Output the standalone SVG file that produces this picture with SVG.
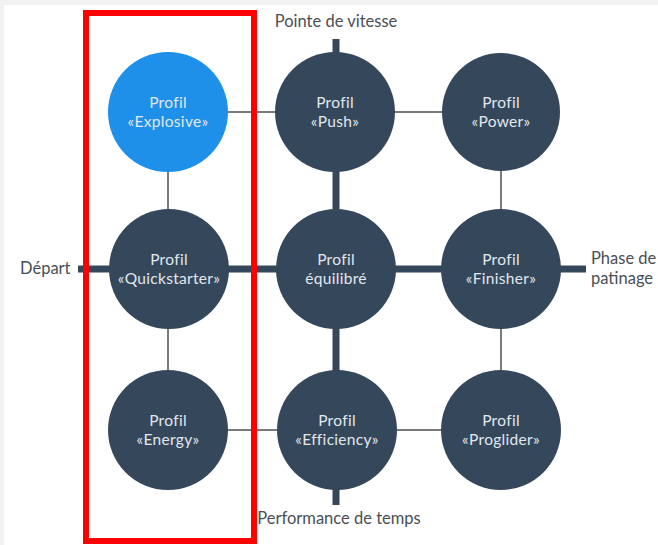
<svg xmlns="http://www.w3.org/2000/svg" width="658" height="545" viewBox="0 0 658 545">
<style>
.bg{fill:#f2f2f2}
.page{fill:#ffffff}
.thin{stroke:#7a7a7a;stroke-width:2;fill:none}
.thick{stroke:#34475b;stroke-width:7;fill:none}
.node{fill:#34475b}
.blue{fill:#1e90ea}
.nt{font-family:Lato,"Liberation Sans",sans-serif;font-size:15.5px;letter-spacing:0.3px;fill:#e3e8ee;text-anchor:middle}
.lbl{font-family:Lato,"Liberation Sans",sans-serif;font-size:16.5px;fill:#4a4f55}
.frame{fill:none;stroke:#ff0000;stroke-width:6}
</style>
<rect class="bg" x="0" y="0" width="658" height="545"/>
<rect class="page" x="4" y="5" width="654" height="540"/>
<g id="connectors">
<line class="thick" x1="78" y1="269" x2="586" y2="269"/>
<line class="thick" x1="336" y1="39" x2="336" y2="505"/>
<line class="thin" x1="168" y1="112" x2="501" y2="112"/>
<line class="thin" x1="168" y1="430" x2="501" y2="430"/>
<line class="thin" x1="168" y1="112" x2="168" y2="430"/>
<line class="thin" x1="501" y1="112" x2="501" y2="430"/>
</g>
<g id="explosive"><circle class="blue" cx="168" cy="112" r="60"/><text class="nt" x="168" y="108">Profil</text><text class="nt" x="168" y="126.7">«Explosive»</text></g>
<g id="push"><circle class="node" cx="335" cy="112" r="60"/><text class="nt" x="335" y="108">Profil</text><text class="nt" x="335" y="126.7">«Push»</text></g>
<g id="power"><circle class="node" cx="501" cy="112" r="59"/><text class="nt" x="501" y="108">Profil</text><text class="nt" x="501" y="126.7">«Power»</text></g>
<g id="quickstarter"><circle class="node" cx="169" cy="269" r="60"/><text class="nt" x="169" y="265">Profil</text><text class="nt" x="169" y="283.7">«Quickstarter»</text></g>
<g id="equilibre"><circle class="node" cx="336" cy="269" r="60"/><text class="nt" x="336" y="265">Profil</text><text class="nt" x="336" y="283.7">équilibré</text></g>
<g id="finisher"><circle class="node" cx="501" cy="269" r="60"/><text class="nt" x="501" y="265">Profil</text><text class="nt" x="501" y="283.7">«Finisher»</text></g>
<g id="energy"><circle class="node" cx="168" cy="430" r="60"/><text class="nt" x="168" y="426">Profil</text><text class="nt" x="168" y="444.7">«Energy»</text></g>
<g id="efficiency"><circle class="node" cx="337" cy="430" r="60"/><text class="nt" x="337" y="426">Profil</text><text class="nt" x="337" y="444.7">«Efficiency»</text></g>
<g id="proglider"><circle class="node" cx="501" cy="430" r="60"/><text class="nt" x="501" y="426">Profil</text><text class="nt" x="501" y="444.7">«Proglider»</text></g>
<g id="labels">
<text class="lbl" x="336" y="27" text-anchor="middle">Pointe de vitesse</text>
<text class="lbl" x="20" y="274">Départ</text>
<text class="lbl" x="591" y="264">Phase de</text>
<text class="lbl" x="591" y="284">patinage</text>
<text class="lbl" x="339" y="524" text-anchor="middle">Performance de temps</text>
</g>
<rect id="highlight" class="frame" x="86" y="13" width="168" height="528"/>
</svg>
